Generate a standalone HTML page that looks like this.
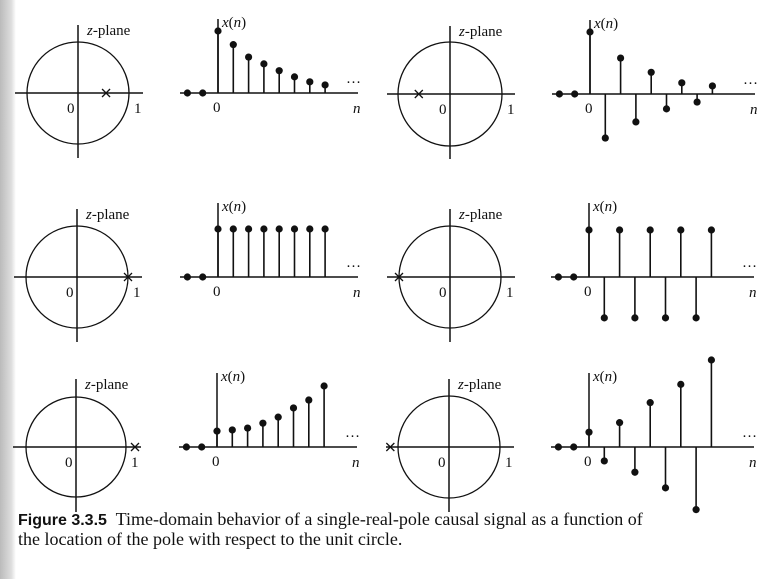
<!DOCTYPE html>
<html><head><meta charset="utf-8"><style>
html,body{margin:0;padding:0;background:#fff;}
#wrap{position:relative;width:779px;height:579px;overflow:hidden;background:#fff;}
#strip{position:absolute;left:0;top:0;width:16px;height:579px;background:linear-gradient(90deg,#bbb,#ddd 70%,#fff);}
svg{position:absolute;left:0;top:0;}
.cap{position:absolute;left:18px;font-family:"Liberation Serif",serif;font-size:18px;color:#111;white-space:nowrap;}
.cap b{font-family:"Liberation Sans",sans-serif;font-weight:bold;font-size:16px;}
</style></head><body>
<div id="wrap">
<div id="strip"></div>
<svg id="fig" width="779" height="579"></svg>
<div class="cap" style="top:509px"><b>Figure 3.3.5</b>&nbsp; Time-domain behavior of a single-real-pole causal signal as a function of</div>
<div class="cap" style="top:529px">the location of the pole with respect to the unit circle.</div>
</div>
<script>
// pole locations (real axis, unit circle radius = 1)
const polePositions = [0.55, -0.6, 1.0, -1.0, 1.18, -1.15];
// sequences x(n), n = 0,1,2,...
const seriesDecay = [1, 0.78, 0.58, 0.47, 0.36, 0.26, 0.18, 0.13];
const seriesAltDecay = [1, -0.71, 0.58, -0.45, 0.35, -0.24, 0.18, -0.13, 0.13];
const seriesConst = [1, 1, 1, 1, 1, 1, 1, 1];
const seriesAltConst = [1, -0.87, 1, -0.87, 1, -0.87, 1, -0.87, 1];
const seriesGrow = [0.26, 0.28, 0.31, 0.39, 0.49, 0.64, 0.77, 1];
const seriesAltGrow = [0.17, -0.16, 0.28, -0.29, 0.51, -0.47, 0.72, -0.72, 1];

const NS="http://www.w3.org/2000/svg";
const svg=document.getElementById('fig');
function mk(tag,attrs,parent){const e=document.createElementNS(NS,tag);for(const k in attrs)e.setAttribute(k,attrs[k]);(parent||svg).appendChild(e);return e;}
function txt(x,y,s,parent,italic,size){const t=mk('text',{x:x,y:y,'font-family':'Liberation Serif, serif','font-size':size||15,fill:'#111'},parent);if(italic)t.setAttribute('font-style','italic');t.textContent=s;return t;}

function zplane(cx,cy,r,pole,idx){
  const g=mk('g',{});
  
  
  mk('circle',{cx:cx,cy:cy,r:r,fill:'none',stroke:'#111','stroke-width':1.3},g);
  mk('line',{x1:cx-63,y1:cy,x2:cx+65,y2:cy,stroke:'#111','stroke-width':1.5},g);
  mk('line',{x1:cx,y1:cy-68,x2:cx,y2:cy+65,stroke:'#111','stroke-width':1.5},g);
  const px=cx+pole*r, s=4;
  const p=mk('path',{d:`M${px-s} ${cy-s}L${px+s} ${cy+s}M${px-s} ${cy+s}L${px+s} ${cy-s}`,stroke:'#111','stroke-width':1.3},g);
  
  
  const zl=mk('text',{x:cx+9,y:cy-58,'font-family':'Liberation Serif, serif','font-size':15,fill:'#111'},g);
  
  
  const it=mk('tspan',{'font-style':'italic'},zl);it.textContent='z';
  const t2=mk('tspan',{},zl);t2.textContent='-plane';
  txt(cx-11,cy+20,'0',g);
  txt(cx+r+5,cy+20,'1',g);
}

function stems(x0,ay,scale,vals,idx,right){
  const dx=15.3;
  const xs=n=>x0+n*dx, ys=v=>ay-v*scale;
  const g=mk('g',{});
  
  
  const xend = right ? x0+165 : x0+140;
  mk('line',{x1:x0-38,y1:ay,x2:xend,y2:ay,stroke:'#111','stroke-width':1.5},g);
  mk('line',{x1:x0,y1:ay-74,x2:x0,y2:ay,stroke:'#111','stroke-width':1.5},g);
  const xl=mk('text',{x:x0+4,y:ay-66,'font-family':'Liberation Serif, serif','font-size':15,fill:'#111'},g);
  
  
  const a=mk('tspan',{'font-style':'italic'},xl);a.textContent='x';
  const b=mk('tspan',{},xl);b.textContent='(';
  const c=mk('tspan',{'font-style':'italic'},xl);c.textContent='n';
  const d=mk('tspan',{},xl);d.textContent=')';
  for(const n of [-2,-1]){
    const dot=mk('circle',{cx:xs(n),cy:ay,r:3.6,fill:'#111'},g);
    
    
  }
  vals.forEach((v,n)=>{
    const st=mk('line',{x1:xs(n),y1:ay,x2:xs(n),y2:ys(v),stroke:'#111','stroke-width':1.6},g);
    
    
    const dot=mk('circle',{cx:xs(n),cy:ys(v),r:3.6,fill:'#111'},g);
    
    
  });
  txt(x0-5,ay+19,'0',g);
  txt(xend-5,ay+20,'n',g,true);
  txt(xend-12,ay-10,'…',g);
}

zplane(78,93,51,polePositions[0],'r1-left');
zplane(450,94,52,polePositions[1],'r1-right');
zplane(77,277,51,polePositions[2],'r2-left');
zplane(450,277,51,polePositions[3],'r2-right');
zplane(76,447,50,polePositions[4],'r3-left');
zplane(449,447,51,polePositions[5],'r3-right');

stems(218,93,62,seriesDecay,'r1-left',false);
stems(590,94,62,seriesAltDecay,'r1-right',true);
stems(218,277,48,seriesConst,'r2-left',false);
stems(589,277,47,seriesAltConst,'r2-right',true);
stems(217,447,61,seriesGrow,'r3-left',false);
stems(589,447,87,seriesAltGrow,'r3-right',true);
</script>
</body></html>
